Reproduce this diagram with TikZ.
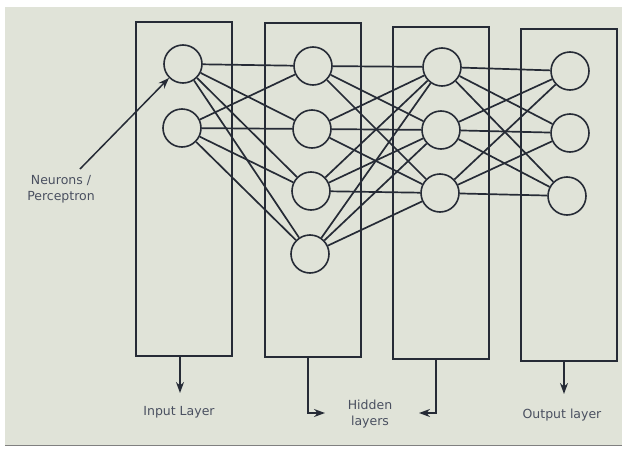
\documentclass[tikz,border=0pt]{standalone}
\usepackage{fontspec}
\setmainfont{DejaVu Sans}
\usetikzlibrary{arrows.meta}
\definecolor{bgc}{HTML}{E0E3D8}
\definecolor{ink}{HTML}{262B36}
\definecolor{txt}{HTML}{4A5060}
\begin{document}
\begin{tikzpicture}[x=1pt,y=-1pt,
  neuron/.style={circle,draw=ink,line width=1.6pt,minimum size=38pt,inner sep=0pt},
  layerbox/.style={draw=ink,line width=1.7pt},
  link/.style={draw=ink,line width=1.7pt},
  lbl/.style={text=txt,font=\fontsize{12.5}{16}\selectfont,align=center,inner sep=0pt},
  pointer/.style={draw=ink,line width=1.5pt,-{Stealth[length=11pt,width=8pt]}}]
\useasboundingbox (0,0) rectangle (627,450);
\fill[white] (0,0) rectangle (627,450);
\fill[bgc] (5,7) rectangle (622,445);
\draw[gray,line width=1pt] (5,445) -- (622,445);
% layer boxes
\node[layerbox,minimum width=96pt,minimum height=334pt,inner sep=0pt] (b1) at (184,189) {};
\node[layerbox,minimum width=96pt,minimum height=334pt,inner sep=0pt] (b2) at (313,190) {};
\node[layerbox,minimum width=96pt,minimum height=332pt,inner sep=0pt] (b3) at (441,193) {};
\node[layerbox,minimum width=96pt,minimum height=332pt,inner sep=0pt] (b4) at (569,195) {};
% neurons
\node[neuron] (i1) at (183,64) {};
\node[neuron] (i2) at (182,128) {};
\node[neuron] (h1) at (313,66) {};
\node[neuron] (h2) at (312,129) {};
\node[neuron] (h3) at (311,191) {};
\node[neuron] (h4) at (310,254) {};
\node[neuron] (g1) at (442,67) {};
\node[neuron] (g2) at (441,130) {};
\node[neuron] (g3) at (440,193) {};
\node[neuron] (o1) at (570,71) {};
\node[neuron] (o2) at (570,133) {};
\node[neuron] (o3) at (567,196) {};
% connections
\foreach \a in {i1,i2}{\foreach \b in {h1,h2,h3,h4}{\draw[link] (\a) -- (\b);}}
\foreach \a in {h1,h2,h3,h4}{\foreach \b in {g1,g2,g3}{\draw[link] (\a) -- (\b);}}
\foreach \a in {g1,g2,g3}{\foreach \b in {o1,o2,o3}{\draw[link] (\a) -- (\b);}}
% neuron label
\node[lbl] (nl) at (61,189) {Neurons /\\Perceptron};
\coordinate (ns) at (80,169);
\draw[pointer] (ns) -- (i1.south west);
% bottom labels
\node[lbl] (li) at (179,412) {Input Layer};
\node[lbl] (lh) at (370,414) {Hidden\\layers};
\node[lbl] (lo) at (562,415) {Output layer};
\coordinate (a1) at (180,356);
\coordinate (a1e) at (180,393);
\draw[pointer] (a1) -- (a1e);
\coordinate (a2) at (308,357);
\coordinate (a2e) at (325,413);
\draw[pointer] (a2) |- (a2e);
\coordinate (a3) at (436,359);
\coordinate (a3e) at (419,413);
\draw[pointer] (a3) |- (a3e);
\coordinate (a4) at (564,361);
\coordinate (a4e) at (564,394);
\draw[pointer] (a4) -- (a4e);
\end{tikzpicture}
\end{document}
